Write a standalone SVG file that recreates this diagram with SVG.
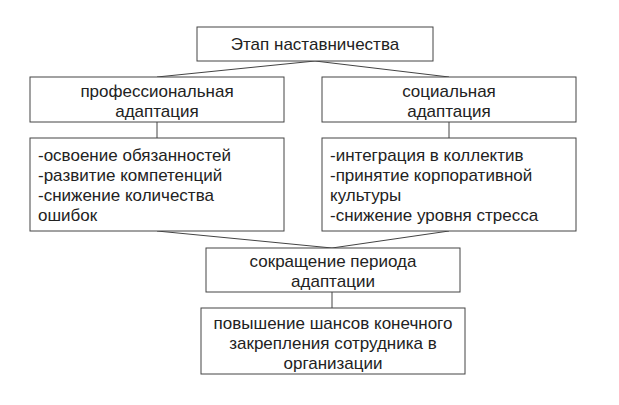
<svg xmlns="http://www.w3.org/2000/svg" width="619" height="405" viewBox="0 0 619 405">
<style>
rect{fill:#fff;stroke:#444;stroke-width:1}
text{font-family:"Liberation Sans",Arial,sans-serif;font-size:17px;fill:#222}
.c{text-anchor:middle}
#connectors line{stroke:#444;stroke-width:1}
</style>
<rect x="0" y="0" width="619" height="405" style="stroke:none"/>
<g id="connectors">
<line x1="315" y1="61" x2="157" y2="77"/>
<line x1="315" y1="61" x2="449" y2="77"/>
<line x1="157" y1="122" x2="157" y2="138"/>
<line x1="449" y1="122" x2="449" y2="138"/>
<line x1="157" y1="231" x2="332" y2="248"/>
<line x1="449" y1="231" x2="332" y2="248"/>
<line x1="332" y1="292" x2="332" y2="308"/>
</g>
<g id="top"><rect x="197" y="27" width="236" height="34"/><text class="c" x="315" y="50">Этап наставничества</text></g>
<g id="prof"><rect x="30" y="77" width="254" height="45"/><text class="c" x="157" y="97">профессиональная</text><text class="c" x="157" y="117">адаптация</text></g>
<g id="soc"><rect x="322" y="77" width="254" height="45"/><text class="c" x="449" y="97">социальная</text><text class="c" x="449" y="117">адаптация</text></g>
<g id="proflist"><rect x="30" y="138" width="254" height="93"/>
<text x="38" y="161">-освоение обязанностей</text><text x="38" y="181">-развитие компетенций</text><text x="38" y="201">-снижение количества</text><text x="38" y="221">ошибок</text></g>
<g id="soclist"><rect x="322" y="138" width="254" height="93"/>
<text x="330" y="161">-интеграция в коллектив</text><text x="330" y="181">-принятие корпоративной</text><text x="330" y="201">культуры</text><text x="330" y="221">-снижение уровня стресса</text></g>
<g id="mid"><rect x="206" y="248" width="254" height="44"/><text class="c" x="333" y="267">сокращение периода</text><text class="c" x="333" y="287">адаптации</text></g>
<g id="bottom"><rect x="201" y="308" width="264" height="66"/><text class="c" x="333" y="329">повышение шансов конечного</text><text class="c" x="333" y="349">закрепления сотрудника в</text><text class="c" x="333" y="369">организации</text></g>
</svg>
